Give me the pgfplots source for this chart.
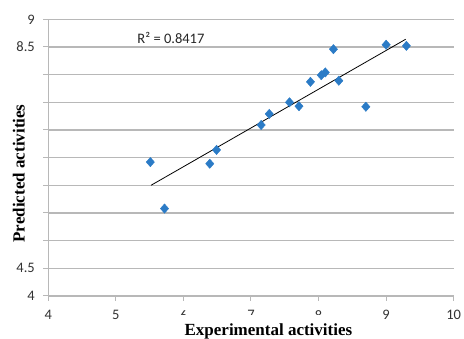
\documentclass[border=0pt]{standalone}
\usepackage{pgfplots}
\pgfplotsset{compat=1.18}
\usepackage{fontspec}
\setmainfont{Liberation Serif}
\newfontfamily\calib{Carlito}
\definecolor{mk}{HTML}{2B7BC6}
\definecolor{gridc}{HTML}{B8B8B8}
\begin{document}
\begin{tikzpicture}
\useasboundingbox (-48.3pt,-43pt) rectangle (415.7pt,296pt);
\begin{axis}[
 scale only axis, width=405.4pt, height=276.7pt,
 xmin=4, xmax=10, ymin=4, ymax=9,
 axis x line*=bottom, axis y line*=left,
 axis line style={gridc, line width=1pt, -},
 xtick={4,5,6,7,8,9,10}, ytick={4,4.5,5,5.5,6,6.5,7,7.5,8,8.5,9},
 xticklabels={4,5,6,7,8,9,10},
 yticklabels={4,4.5,,,,,,,,8.5,9},
 tick align=outside, major tick length=5pt,
 tick style={gridc, line width=1pt},
 ymajorgrids, grid style={gridc, line width=1.2pt},
 ticklabel style={font=\calib\fontsize{14.5}{16}\selectfont, text=black!80},
 xticklabel style={yshift=-6pt},
 yticklabel style={xshift=-5pt},
 /pgf/number format/assume math mode=true,
 xlabel={Experimental activities},
 label style={font=\bfseries\fontsize{17}{19}\selectfont},
 xlabel style={at={(rel axis cs:0.543,0)}, anchor=base, yshift=-39.5pt, fill=white, inner xsep=6pt, inner ysep=9pt},
 clip=false,
]
\addplot[only marks, mark=diamond*, mark size=5.5pt, color=mk, mark options={yscale=0.85, fill=mk, draw=mk}] coordinates {
(5.51,6.42) (5.72,5.58) (6.39,6.39) (6.49,6.64) (7.15,7.09) (7.27,7.29)
(7.57,7.50) (7.71,7.43) (7.88,7.87) (8.04,7.99) (8.10,8.04) (8.22,8.46)
(8.30,7.89) (8.70,7.42) (9.00,8.54) (9.30,8.52)
};
\addplot[black, line width=0.8pt] coordinates {(5.52,6.00) (9.29,8.64)};
\node[anchor=base west, inner sep=0pt, font=\calib\fontsize{14.5}{16}\selectfont, text=black!85] at (axis cs:5.317,8.554) {R² = 0.8417};
\node[rotate=90, anchor=center, inner sep=0pt, font=\bfseries\fontsize{17}{19}\selectfont] at ([xshift=-29.6pt]rel axis cs:0,0.443) {Predicted activities};
\end{axis}
\end{tikzpicture}
\end{document}
